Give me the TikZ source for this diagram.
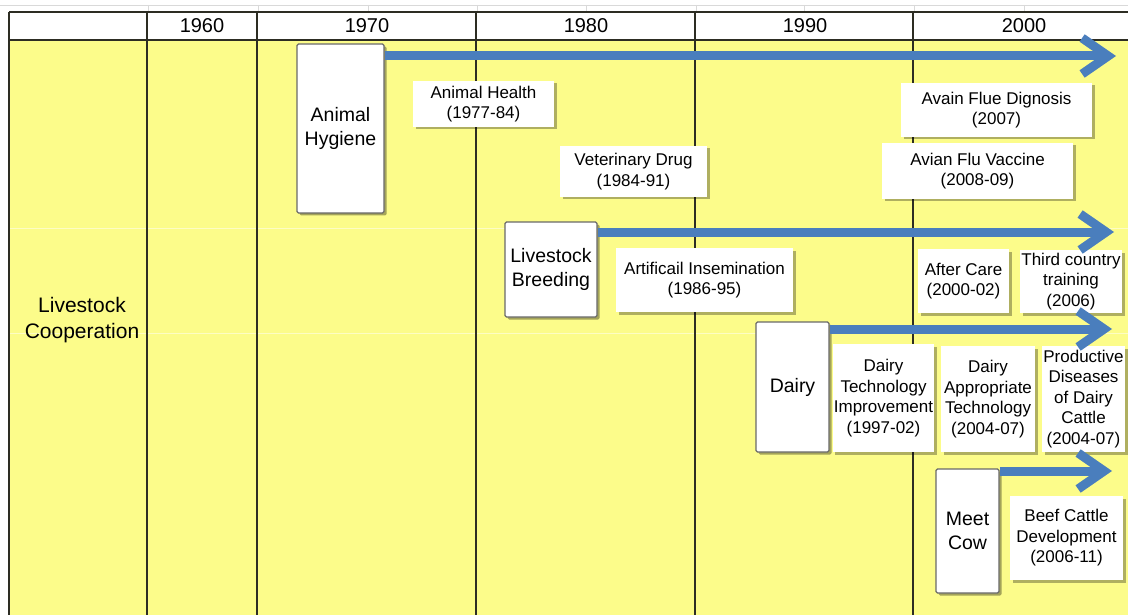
\documentclass[tikz,border=0pt]{standalone}
\usepackage{fontspec}
\setmainfont{Liberation Sans}
\usepackage{xcolor}
\usetikzlibrary{arrows.meta,shadows}

\definecolor{sheetyellow}{RGB}{252,252,138}
\definecolor{flowblue}{RGB}{74,126,189}
\definecolor{gridline}{RGB}{45,45,35}
\definecolor{boxedge}{RGB}{105,105,105}

\begin{document}
\begin{tikzpicture}[x=1pt, y=-1pt,
    topic/.style={draw=boxedge, line width=1.2pt, fill=white, rounded corners=1.5pt, inner sep=1pt, align=center,
        font=\fontsize{19.5}{23.5}\selectfont, drop shadow={shadow xshift=2.5pt, shadow yshift=-2.5pt, fill=black, opacity=.35}},
    project/.style={fill=white, inner sep=1pt, align=center,
        font=\fontsize{17}{20.5}\selectfont, drop shadow={shadow xshift=2.5pt, shadow yshift=-2.5pt, fill=black, opacity=.3}},
    year/.style={font=\fontsize{20}{24}\selectfont},
    flow/.style={draw=flowblue, line width=9pt, -{Straight Barb[length=26pt, width=36pt]}},
    colline/.style={draw=gridline, line width=2.8pt},
    faint/.style={draw=black!15, line width=.8pt}]

    \useasboundingbox (0,0) rectangle (1128,615);
    \fill[white] (0,0) rectangle (1128,615);
    \fill[sheetyellow] (9,40) rectangle (1128,615);

    % sheet grid behind the table
    \draw[faint] (0,5) -- (1128,5);
    \foreach \x in {148,258,368,477,586,696,804,914,1024}
        \draw[faint] (\x,5) -- (\x,12);
    \draw[draw=white, opacity=.5, line width=.8pt] (9,228) -- (1128,228);
    \draw[draw=white, opacity=.5, line width=.8pt] (9,333) -- (1128,333);

    % table frame
    \draw[colline, line width=2pt] (9,12) -- (1128,12);
    \draw[colline] (9,40) -- (1128,40);
    \foreach \x in {9,147,257,476,695,913}
        \draw[colline] (\x,12) -- (\x,615);

    \node[year] (y60) at (202,26) {1960};
    \node[year] (y70) at (367,26) {1970};
    \node[year] (y80) at (586,26) {1980};
    \node[year] (y90) at (805,26) {1990};
    \node[year] (y00) at (1024,26) {2000};

    \node[align=center, font=\fontsize{21}{26}\selectfont] (coop) at (82,320) {Livestock\\Cooperation};

    % main fields
    \node[topic, minimum width=87pt, minimum height=169pt] (hyg) at (340.5,128.5) {Animal\\Hygiene};
    \node[topic, minimum width=92pt, minimum height=95pt] (breed) at (551,269.5) {Livestock\\Breeding};
    \node[topic, minimum width=73pt, minimum height=130pt] (dairy) at (792.5,387) {Dairy};
    \node[topic, minimum width=63pt, minimum height=124pt] (meat) at (967.5,531) {Meet\\Cow};

    % projects
    \node[project, minimum width=141pt, minimum height=46pt] (health) at (483.5,104) {Animal Health\\(1977-84)};
    \node[project, minimum width=147pt, minimum height=51pt] (vdrug) at (633.5,171.5) {Veterinary Drug\\(1984-91)};
    \node[project, minimum width=191pt, minimum height=54pt] (aflu) at (996.5,110) {Avain Flue Dignosis\\(2007)};
    \node[project, minimum width=191pt, minimum height=56pt] (avac) at (977.5,171) {Avian Flu Vaccine\\(2008-09)};
    \node[project, minimum width=177pt, minimum height=64pt] (ai) at (704.5,280) {Artificail Insemination\\(1986-95)};
    \node[project, minimum width=91pt, minimum height=64pt] (after) at (963.5,281) {After Care\\(2000-02)};
    \node[project, minimum width=102pt, minimum height=63pt] (third) at (1071,281.5) {Third country\\training\\(2006)};
    \node[project, minimum width=101pt, minimum height=108pt] (dti) at (883.5,398) {Dairy\\Technology\\Improvement\\(1997-02)};
    \node[project, minimum width=94pt, minimum height=106pt] (dat) at (988,399) {Dairy\\Appropriate\\Technology\\(2004-07)};
    \node[project, minimum width=83pt, minimum height=106pt] (pdd) at (1083.5,399) {Productive\\Diseases\\of Dairy\\Cattle\\(2004-07)};
    \node[project, minimum width=113pt, minimum height=84pt] (beef) at (1066.5,538) {Beef Cattle\\Development\\(2006-11)};

    % running lines
    \coordinate (e1) at (1116,56);
    \coordinate (e2) at (1114,232);
    \coordinate (e3) at (1112,329);
    \coordinate (e4) at (1112,471);
    \draw[flow] (hyg.east |- e1) -- (e1);
    \draw[flow] (breed.east |- e2) -- (e2);
    \draw[flow] (dairy.east |- e3) -- (e3);
    \draw[flow] (meat.east |- e4) -- (e4);
\end{tikzpicture}
\end{document}
